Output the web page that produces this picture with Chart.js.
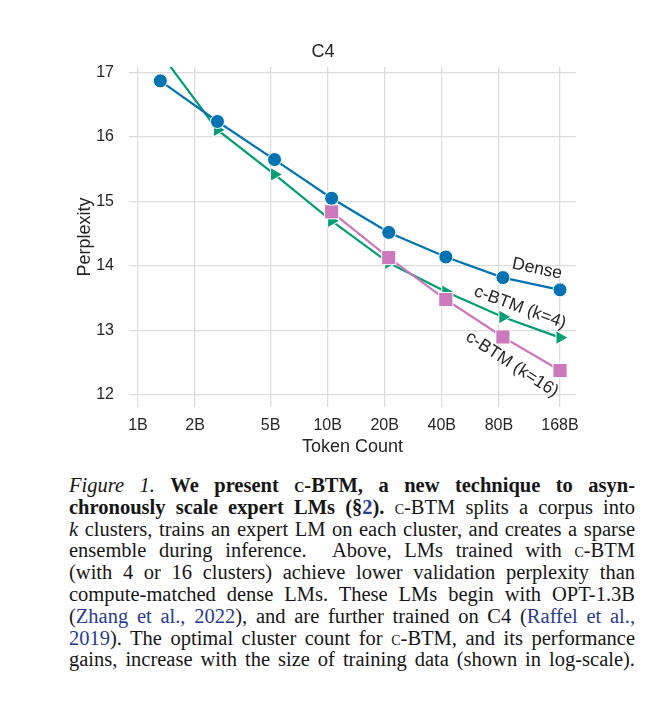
<!DOCTYPE html>
<html>
<head>
<meta charset="utf-8">
<script src="https://cdn.jsdelivr.net/npm/chart.js@4.4.0/dist/chart.umd.min.js"></script>
<style>
  html, body { margin: 0; padding: 0; background: #fff; }
  body { width: 649px; height: 718px; position: relative; overflow: hidden; }
  #chartBox { position: absolute; left: 0; top: 0; width: 649px; height: 460px; }
  #caption {
    position: absolute; left: 69px; top: 475px; width: 566px;
    font-family: 'Liberation Serif', 'Times New Roman', serif;
    font-size: 20.5px; line-height: 21.8px; color: #161616;
  }
  #caption .ln { white-space: nowrap; text-align: justify; text-align-last: justify; }
  .sc { font-variant: small-caps; }
  .ref { color: #2a3c8e; }
</style>
</head>
<body>
<div id="chartBox"><canvas id="c4Chart" width="649" height="460"></canvas></div>

<div id="caption">
  <div class="ln"><i>Figure 1.</i> <b>We present <span class="sc">c-BTM</span>, a new technique to asyn-</b></div>
  <div class="ln"><b>chronously scale expert LMs (§<span class="ref">2</span>).</b> <span class="sc">c-BTM</span> splits a corpus into</div>
  <div class="ln"><i>k</i> clusters, trains an expert LM on each cluster, and creates a sparse</div>
  <div class="ln">ensemble during inference. &nbsp;Above, LMs trained with <span class="sc">c-BTM</span></div>
  <div class="ln">(with 4 or 16 clusters) achieve lower validation perplexity than</div>
  <div class="ln">compute-matched dense LMs. These LMs begin with OPT-1.3B</div>
  <div class="ln">(<span class="ref">Zhang et al., 2022</span>), and are further trained on C4 (<span class="ref">Raffel et al.,</span></div>
  <div class="ln"><span class="ref">2019</span>). The optimal cluster count for <span class="sc">c-BTM</span>, and its performance</div>
  <div class="ln">gains, increase with the size of training data (shown in log-scale).</div>
</div>

<script>
// values (token count in billions)
const tokenCounts = [1.3125, 2.625, 5.25, 10.5, 21, 42, 84, 168];
const densePpl = [16.87, 16.24, 15.65, 15.05, 14.52, 14.14, 13.82, 13.63];
const cbtm4Ppl = [17.30, 16.11, 15.42, 14.70, 14.05, 13.60, 13.21, 12.89];
const cbtm16Ppl = [null, null, null, 14.84, 14.13, 13.48, 12.90, 12.38];

const xTickValues = [1, 2, 5, 10, 20, 40, 80, 168];
const xTickLabels = ['1B', '2B', '5B', '10B', '20B', '40B', '80B', '168B'];
const yTickValues = [12, 13, 14, 15, 16, 17];
const seriesNames = ['Dense', 'c-BTM (k=4)', 'c-BTM (k=16)'];

const textColor = '#262626';
Chart.defaults.font.family = "'Liberation Sans', Arial, sans-serif";
Chart.defaults.color = textColor;

function toPoints(values) {
    const pts = [];
    for (let i = 0; i < values.length; i++) {
        if (values[i] !== null) pts.push({x: tokenCounts[i], y: values[i]});
    }
    return pts;
}

// labels written along the end of each line
const lineLabels = {
    id: 'lineLabels',
    afterDatasetsDraw(chart) {
        const ctx = chart.ctx;
        const spots = [
            {dx: -23, dy: -21, angle: 12},
            {dx: -40, dy: -30, angle: 20},
            {dx: -48, dy: -6, angle: 33}
        ];
        chart.data.datasets.forEach(function(ds, i) {
            const pts = chart.getDatasetMeta(i).data;
            const last = pts[pts.length - 1];
            const s = spots[i];
            ctx.save();
            ctx.translate(last.x + s.dx, last.y + s.dy);
            ctx.rotate(s.angle * Math.PI / 180);
            ctx.font = "17.5px 'Liberation Sans', Arial, sans-serif";
            ctx.fillStyle = textColor;
            ctx.textAlign = 'center';
            ctx.textBaseline = 'middle';
            ctx.fillText(ds.label, 0, 0);
            ctx.restore();
        });
    }
};

const data = {
    datasets: [{
        label: seriesNames[0],
        data: toPoints(densePpl),
        borderColor: '#0173B2',
        backgroundColor: '#0173B2',
        borderWidth: 2.2,
        pointStyle: 'circle',
        pointRadius: 7,
        pointBorderColor: '#ffffff',
        pointBorderWidth: 1,
        order: 0
    }, {
        label: seriesNames[1],
        data: toPoints(cbtm4Ppl),
        borderColor: '#029E73',
        backgroundColor: '#029E73',
        borderWidth: 2.2,
        pointStyle: 'triangle',
        pointRotation: 90,
        pointRadius: 8,
        pointBorderColor: '#ffffff',
        pointBorderWidth: 1,
        order: 2
    }, {
        label: seriesNames[2],
        data: toPoints(cbtm16Ppl),
        borderColor: '#CC78BC',
        backgroundColor: '#CC78BC',
        borderWidth: 2.2,
        pointStyle: 'rect',
        pointRadius: 10,
        pointBorderColor: '#ffffff',
        pointBorderWidth: 1,
        order: 1
    }]
};

const config = {
    type: 'line',
    data: data,
    options: {
        responsive: false,
        animation: false,
        layout: {padding: {left: 70, right: 73, top: 0, bottom: 0}},
        plugins: {
            legend: {display: false},
            tooltip: {enabled: false},
            title: {
                display: true,
                text: 'C4',
                color: textColor,
                font: {size: 18, weight: 'normal'},
                padding: {top: 41.2, bottom: 4.2}
            }
        },
        scales: {
            x: {
                type: 'logarithmic',
                min: 0.897,
                max: 204,
                afterBuildTicks: function(scale) {
                    scale.ticks = xTickValues.map(v => ({value: v}));
                },
                afterFit: function(scale) { scale.height = 53; },
                ticks: {
                    autoSkip: false,
                    maxRotation: 0,
                    padding: 9,
                    color: textColor,
                    font: {size: 16},
                    callback: function(value, index) { return xTickLabels[index]; }
                },
                grid: {color: '#dcdcdc', lineWidth: 1.3, drawTicks: false},
                border: {display: false},
                title: {
                    display: true,
                    text: 'Token Count',
                    color: textColor,
                    font: {size: 18},
                    padding: {top: 0, bottom: 2.5}
                }
            },
            y: {
                min: 11.814,
                max: 17.085,
                afterBuildTicks: function(scale) {
                    scale.ticks = yTickValues.map(v => ({value: v}));
                },
                afterFit: function(scale) { scale.width = 59; },
                ticks: {padding: 15, color: textColor, font: {size: 16}},
                grid: {color: '#dcdcdc', lineWidth: 1.3, drawTicks: false},
                border: {display: false},
                title: {
                    display: true,
                    text: 'Perplexity',
                    color: textColor,
                    font: {size: 18},
                    padding: {top: 4.2, bottom: 0}
                }
            }
        }
    },
    plugins: [lineLabels]
};

const c4Chart = new Chart(document.getElementById('c4Chart'), config);
</script>
</body>
</html>
